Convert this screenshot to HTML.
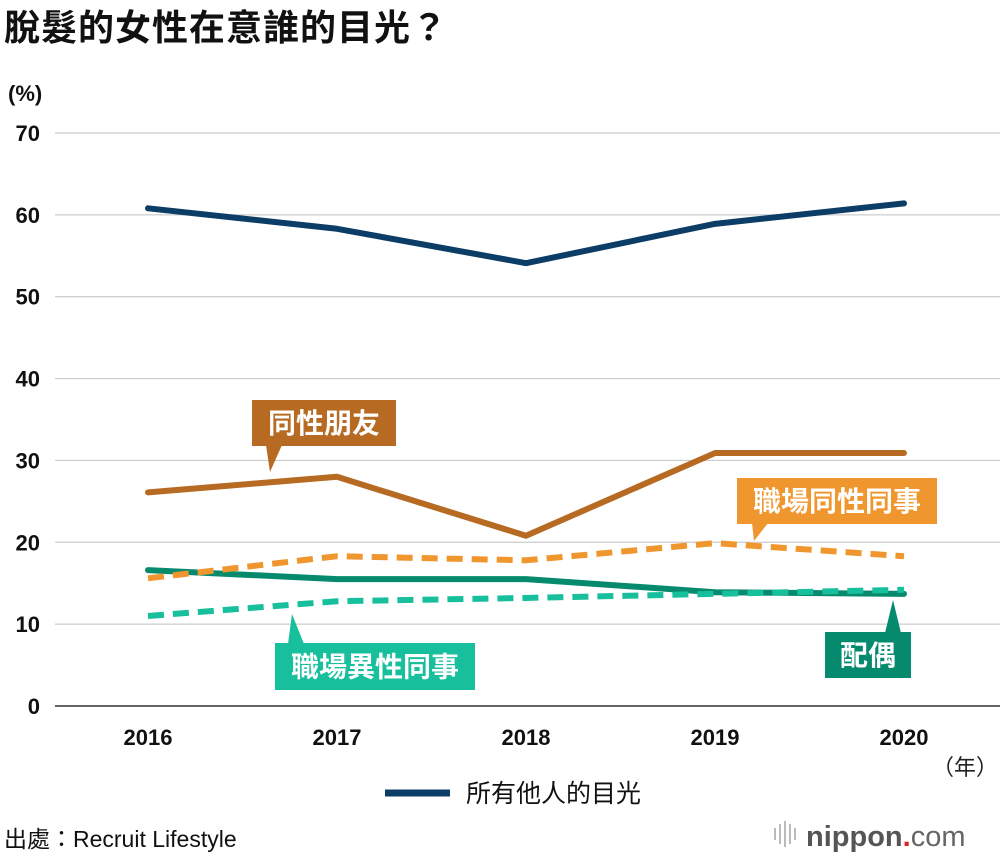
<!DOCTYPE html>
<html><head><meta charset="utf-8"><style>
body{margin:0;background:#fff;width:1000px;height:856px;overflow:hidden;font-family:"Liberation Sans","Noto Sans CJK TC",sans-serif}
svg{display:block}
</style></head><body>
<svg id="chart" width="1000" height="856" font-family="'Liberation Sans','Noto Sans CJK TC',sans-serif">
<text x="4" y="40" font-size="36" font-weight="bold" fill="#111" letter-spacing="1">脫髮的女性在意誰的目光？</text>
<text x="8" y="101" font-size="22" fill="#111" font-weight="bold">(%)</text>
<g id="grid"></g>
<g id="series"></g>
<g id="callouts"></g>
<text x="998" y="775" font-size="22" fill="#222" text-anchor="end">（年）</text>
<line x1="385" y1="793" x2="450" y2="793" stroke="#0b3d66" stroke-width="7"/>
<text x="466" y="802" font-size="25" fill="#111">所有他人的目光</text>
<text x="4" y="847" font-size="23" fill="#111">出處：Recruit Lifestyle</text>
<g>
<g stroke="#bbb" stroke-width="2"><line x1="775" y1="828" x2="775" y2="840"/><line x1="780" y1="824" x2="780" y2="844"/><line x1="785" y1="821" x2="785" y2="847"/><line x1="790" y1="824" x2="790" y2="844"/><line x1="795" y1="828" x2="795" y2="840"/></g>
<text x="806" y="846" font-size="29" fill="#555" font-weight="bold">nippon<tspan fill="#e0202a">.</tspan><tspan font-weight="normal" fill="#666">com</tspan></text>
</g>
</svg>
<script>
const years=["2016","2017","2018","2019","2020"];
const yTicks=[0,10,20,30,40,50,60,70];
const othersVals=[60.8,58.3,54.1,58.9,61.4];
const sameSexFriendVals=[26.1,28.0,20.8,30.9,30.9];
const sameSexColleagueVals=[15.6,18.3,17.8,19.9,18.3];
const spouseVals=[16.6,15.5,15.5,13.9,13.7];
const oppSexColleagueVals=[11.0,12.8,13.2,13.7,14.2];
const NS="http://www.w3.org/2000/svg";
const xS=i=>148+i*189;
const yS=v=>706-v*(706-133)/70;
function mk(tag,attrs,parent){const e=document.createElementNS(NS,tag);for(const k in attrs)e.setAttribute(k,attrs[k]);parent.appendChild(e);return e;}
const grid=document.getElementById('grid');
yTicks.forEach(t=>{
 const l=mk('line',{x1:55,x2:1000,y1:yS(t),y2:yS(t),stroke:t===0?'#333':'#ccc','stroke-width':t===0?1.5:1.2},grid);
 
 
 const tx=mk('text',{x:40,y:yS(t)+8,'font-size':22,'text-anchor':'end',fill:'#111','font-weight':'bold'},grid);
 tx.textContent=t;
 
 
});
years.forEach((y,i)=>{
 const tx=mk('text',{x:xS(i),y:745,'font-size':22,'text-anchor':'middle',fill:'#111','font-weight':'bold'},grid);
 tx.textContent=y;
 
 
});
const ser=document.getElementById('series');
function line(vals,color,dash,name){
 const p=mk('polyline',{points:vals.map((v,i)=>xS(i)+','+yS(v)).join(' '),fill:'none',stroke:color,'stroke-width':6,'stroke-linejoin':'round','stroke-linecap':dash?'butt':'round'},ser);
 if(dash)p.setAttribute('stroke-dasharray','16 9');
 
 
}
line(spouseVals,'#068a6e',false,'line-spouse');
line(oppSexColleagueVals,'#17bf9c',true,'line-opposite-sex-colleague');
line(sameSexColleagueVals,'#f0962f',true,'line-same-sex-colleague');
line(sameSexFriendVals,'#b66a22',false,'line-same-sex-friend');
line(othersVals,'#0b3d66',false,'line-others-gaze');
const co=document.getElementById('callouts');
function callout(x,y,w,h,color,text,tri,name){
 const g=mk('g',{},co);
 
 
 mk('rect',{x:x,y:y,width:w,height:h,fill:color},g);
 mk('polygon',{points:tri,fill:color},g);
 const t=mk('text',{x:x+w/2,y:y+h/2+10,'font-size':28,'text-anchor':'middle',fill:'#fff','font-weight':'bold'},g);
 t.textContent=text;
}
callout(252,400,144,46,'#b66a22','同性朋友','266,445 282,445 270,472','callout-same-sex-friend');
callout(737,478,200,46,'#f0962f','職場同性同事','752,523 768,523 754,541','callout-same-sex-colleague');
callout(275,643,200,47,'#17bf9c','職場異性同事','288,644 304,644 292,614','callout-opposite-sex-colleague');
callout(825,632,86,46,'#068a6e','配偶','885,633 901,633 893,600','callout-spouse');
</script>
</body></html>
